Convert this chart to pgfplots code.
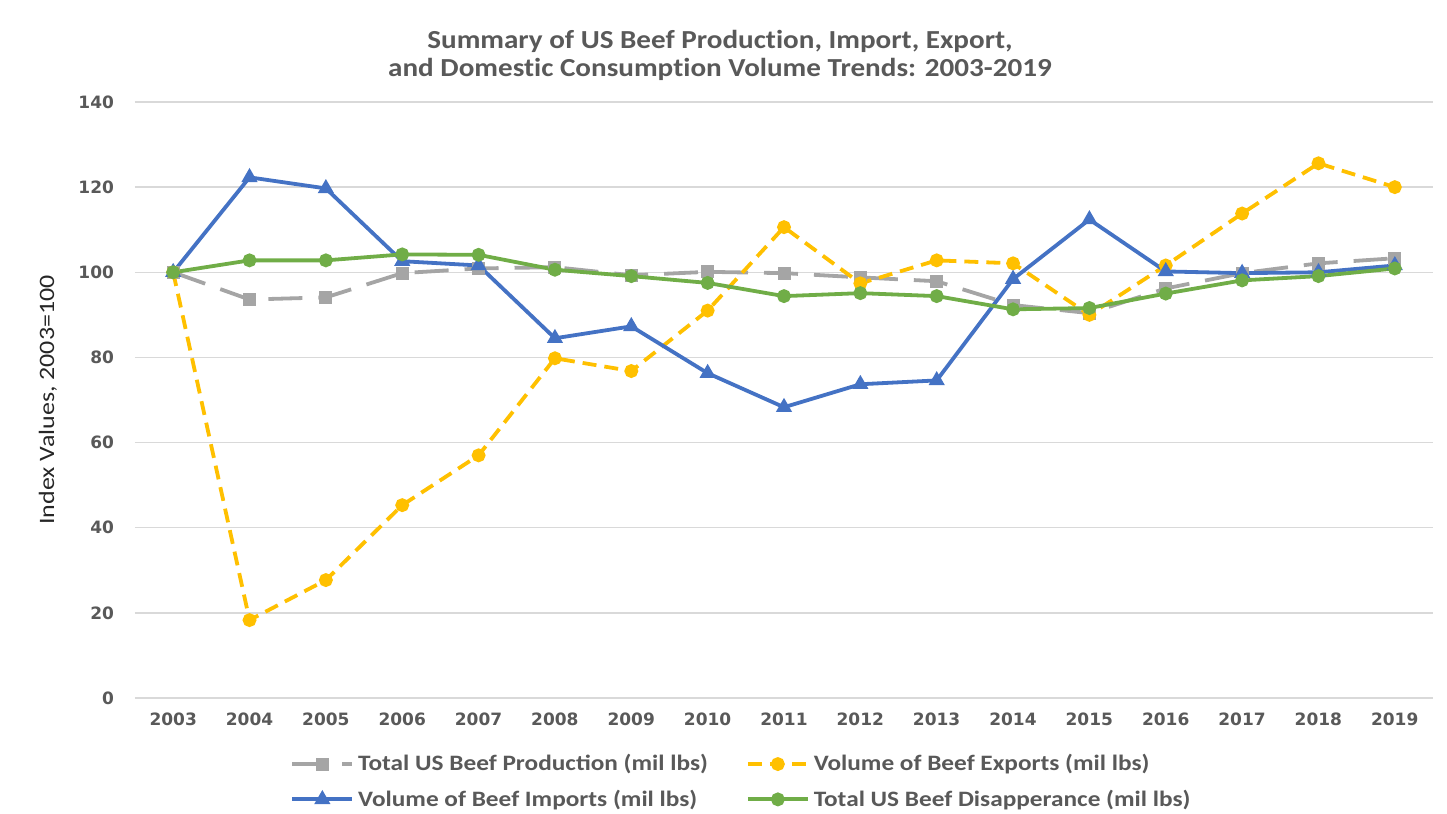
\documentclass[border=0pt]{standalone}
\usepackage{pgfplots}
\pgfplotsset{compat=1.18}
\usepackage{fontspec}
\setmainfont{Carlito}
\newfontfamily\legfont{Carlito Bold}[FakeStretch=1.15]
\newfontfamily\titfont{Carlito}[FakeStretch=1.12, Ligatures=NoCommon]
\newfontfamily\dejavub{DejaVu Sans}[BoldFont={DejaVu Sans Bold}]
\definecolor{cgray}{HTML}{A5A5A5}
\definecolor{cyel}{HTML}{FFC000}
\definecolor{cblue}{HTML}{4472C4}
\definecolor{cgreen}{HTML}{70AD47}
\definecolor{ctxt}{HTML}{595959}
\definecolor{cgrid}{HTML}{D9D9D9}
\begin{document}
\begin{tikzpicture}
\useasboundingbox (-67.5pt,-58pt) rectangle (656pt,349pt);
\begin{axis}[
  scale only axis, width=649pt, height=298pt,
  xmin=2002.5, xmax=2019.5, ymin=0, ymax=140,
  xtick={2003,...,2019}, ytick={0,20,...,140},
  /pgf/number format/assume math mode=true,
  x tick label style={/pgf/number format/1000 sep={}},
  ticklabel style={font=\dejavub\bfseries\fontsize{8.5}{10}\selectfont, text=ctxt},
  yticklabel style={xshift=-7pt},
  xticklabel style={yshift=-4pt},
  major tick length=0pt,
  axis line style={draw=none},
  ymajorgrids, grid style={cgrid, line width=0.7pt},
  ylabel={\scalebox{1.18}[1]{\fontsize{11}{12}\selectfont Index Values, 2003=100}},
  every axis y label/.style={at={(rel axis cs:0,0.5)}, xshift=-43.5pt, rotate=90, anchor=center, text=black!85},
  title={\titfont\bfseries\fontsize{13}{16}\selectfont Summary of US Beef Production, Import, Export,\\[2pt] \titfont\bfseries\fontsize{13}{16}\selectfont and Domestic Consumption Volume Trends: 2003-2019},
  title style={at={(0.4507,1)}, anchor=south, yshift=1pt, align=center, text=ctxt},
  legend columns=2,
  legend style={at={(0.468,0)}, anchor=north, yshift=-24pt, draw=none, fill=none,
    font=\legfont\fontsize{11}{13}\selectfont, text=ctxt,
    /tikz/every even column/.append style={column sep=17pt},
    row sep=4pt},
  legend cell align=left,
  legend image code/.code={\draw[#1] (0pt,0pt) -- (30pt,0pt); \draw[#1, solid] plot coordinates {(15pt,0pt)};},
]
\addplot[cgray, line width=1.9pt, dash pattern=on 17pt off 8pt, mark=square*, mark size=2.3pt, mark options={solid}]
coordinates {(2003,100)(2004,93.6)(2005,94.1)(2006,99.8)(2007,100.9)(2008,101.2)(2009,99.3)(2010,100.1)(2011,99.8)(2012,98.8)(2013,97.9)(2014,92.3)(2015,90.4)(2016,96.2)(2017,99.8)(2018,102.1)(2019,103.3)};
\addlegendentry{Total US Beef Production (mil lbs)}
\addplot[cyel, line width=1.9pt, dash pattern=on 7pt off 4pt, mark=*, mark size=2.5pt, mark options={solid}]
coordinates {(2003,100)(2004,18.3)(2005,27.7)(2006,45.3)(2007,57.0)(2008,79.8)(2009,76.8)(2010,91.0)(2011,110.6)(2012,97.4)(2013,102.8)(2014,102.1)(2015,90.0)(2016,101.6)(2017,113.8)(2018,125.6)(2019,120.0)};
\addlegendentry{Volume of Beef Exports (mil lbs)}
\addplot[cblue, line width=1.9pt, mark=triangle*, mark size=2.8pt]
coordinates {(2003,100)(2004,122.3)(2005,119.7)(2006,102.6)(2007,101.6)(2008,84.5)(2009,87.3)(2010,76.3)(2011,68.3)(2012,73.7)(2013,74.6)(2014,98.4)(2015,112.4)(2016,100.2)(2017,99.8)(2018,100.0)(2019,101.6)};
\addlegendentry{Volume of Beef Imports (mil lbs)}
\addplot[cgreen, line width=1.9pt, mark=*, mark size=2.5pt]
coordinates {(2003,100)(2004,102.8)(2005,102.8)(2006,104.2)(2007,104.1)(2008,100.6)(2009,99.1)(2010,97.5)(2011,94.4)(2012,95.1)(2013,94.4)(2014,91.3)(2015,91.6)(2016,95.0)(2017,98.1)(2018,99.1)(2019,100.9)};
\addlegendentry{Total US Beef Disapperance (mil lbs)}
\end{axis}
\end{tikzpicture}
\end{document}
